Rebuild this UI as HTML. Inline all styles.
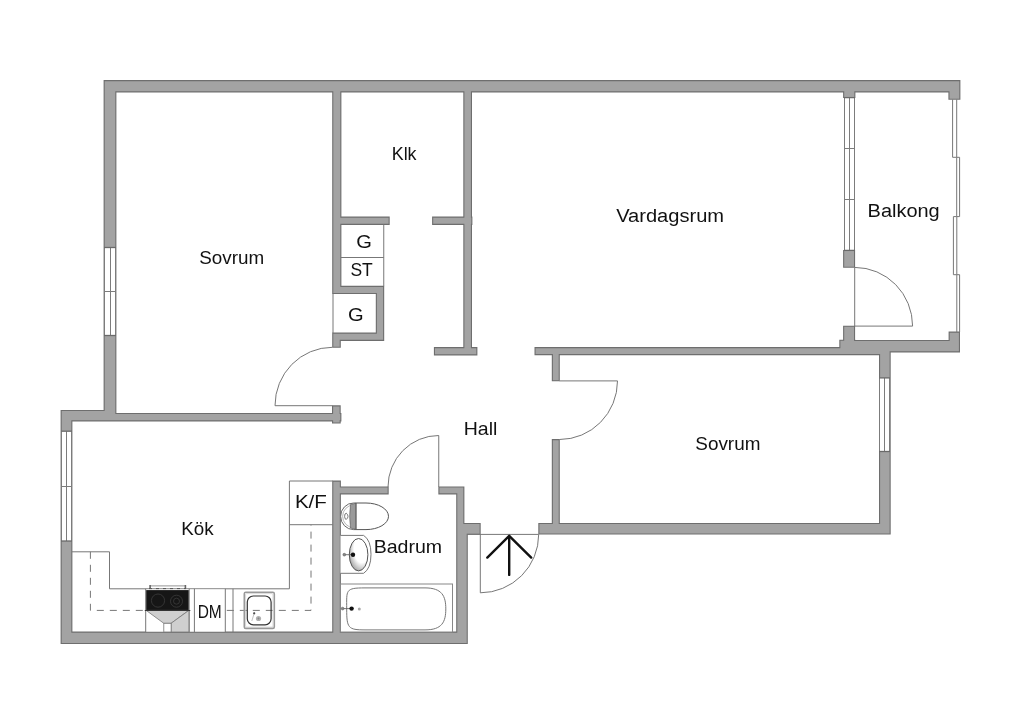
<!DOCTYPE html>
<html><head><meta charset="utf-8"><style>
html,body{margin:0;padding:0;background:#fff;width:1024px;height:724px;overflow:hidden}
svg{display:block;will-change:transform}
text{font-family:"Liberation Sans",sans-serif;fill:#111;}
</style></head><body>
<svg width="1024" height="724" viewBox="0 0 1024 724">
<rect width="1024" height="724" fill="#fff"/>
<path fill="#6e6e6e" d="M103.60,80.10H960.40V92.40H103.60ZM103.60,80.10H116.40V421.40H103.60ZM60.60,409.90H116.40V421.40H60.60ZM103.60,413.00H341.40V421.40H103.60ZM60.60,409.90H72.40V644.10H60.60ZM60.60,631.60H467.80V644.10H60.60ZM456.20,523.00H467.80V644.10H456.20ZM456.20,486.40H464.40V534.80H456.20ZM332.20,486.50H388.70V494.40H332.20ZM438.35,486.50H464.40V494.40H438.35ZM332.20,480.60H340.90V644.10H332.20ZM456.20,523.00H480.70V534.80H456.20ZM538.30,523.00H890.70V534.60H538.30ZM551.80,439.10H559.80V534.60H551.80ZM551.80,347.10H559.80V381.30H551.80ZM534.50,347.10H890.60V355.20H534.50ZM839.30,339.70H855.40V355.20H839.30ZM843.10,325.70H855.10V355.20H843.10ZM843.10,340.00H960.00V352.40H843.10ZM879.00,340.00H890.70V534.60H879.00ZM948.60,331.60H960.00V352.40H948.60ZM843.10,80.10H855.40V98.00H843.10ZM843.10,250.00H855.10V267.80H843.10ZM948.40,80.10H960.40V99.80H948.40ZM332.20,80.10H341.40V294.10H332.20ZM332.20,285.80H384.20V294.10H332.20ZM375.80,285.80H384.20V340.90H375.80ZM332.20,332.60H384.20V340.90H332.20ZM332.20,332.60H340.80V347.80H332.20ZM332.00,405.30H340.70V423.60H332.00ZM332.20,216.60H389.70V224.90H332.20ZM432.10,216.60H472.40V224.90H432.10ZM463.30,80.10H472.00V355.40H463.30ZM433.90,347.10H477.40V355.40H433.90Z"/>
<path fill="#a3a3a3" d="M104.70,81.20H959.30V91.30H104.70ZM104.70,81.20H115.30V420.30H104.70ZM61.70,411.00H115.30V420.30H61.70ZM104.70,414.10H340.30V420.30H104.70ZM61.70,411.00H71.30V643.00H61.70ZM61.70,632.70H466.70V643.00H61.70ZM457.30,524.10H466.70V643.00H457.30ZM457.30,487.50H463.30V533.70H457.30ZM333.30,487.60H387.60V493.30H333.30ZM439.45,487.60H463.30V493.30H439.45ZM333.30,481.70H339.80V643.00H333.30ZM457.30,524.10H479.60V533.70H457.30ZM539.40,524.10H889.60V533.50H539.40ZM552.90,440.20H558.70V533.50H552.90ZM552.90,348.20H558.70V380.20H552.90ZM535.60,348.20H889.50V354.10H535.60ZM840.40,340.80H854.30V354.10H840.40ZM844.20,326.80H854.00V354.10H844.20ZM844.20,341.10H958.90V351.30H844.20ZM880.10,341.10H889.60V533.50H880.10ZM949.70,332.70H958.90V351.30H949.70ZM844.20,81.20H854.30V96.90H844.20ZM844.20,251.10H854.00V266.70H844.20ZM949.50,81.20H959.30V98.70H949.50ZM333.30,81.20H340.30V293.00H333.30ZM333.30,286.90H383.10V293.00H333.30ZM376.90,286.90H383.10V339.80H376.90ZM333.30,333.70H383.10V339.80H333.30ZM333.30,333.70H339.70V346.70H333.30ZM333.10,406.40H339.60V422.50H333.10ZM333.30,217.70H388.60V223.80H333.30ZM433.20,217.70H471.30V223.80H433.20ZM464.40,81.20H470.90V354.30H464.40ZM435.00,348.20H476.30V354.30H435.00Z"/>
<rect x="104" y="247.5" width="12" height="88.0" fill="#fff"/><line x1="104.5" y1="247.5" x2="104.5" y2="335.5" stroke="#7c7c7c" stroke-width="1" fill="none"/><line x1="115.5" y1="247.5" x2="115.5" y2="335.5" stroke="#7c7c7c" stroke-width="1" fill="none"/><line x1="110.5" y1="247.5" x2="110.5" y2="335.5" stroke="#7c7c7c" stroke-width="1" fill="none"/><line x1="104" y1="291.5" x2="116" y2="291.5" stroke="#7c7c7c" stroke-width="1" fill="none"/><line x1="104" y1="247.5" x2="116" y2="247.5" stroke="#6a6a6a" stroke-width="1.3"/><line x1="104" y1="335.5" x2="116" y2="335.5" stroke="#6a6a6a" stroke-width="1.3"/><rect x="61" y="431.2" width="11" height="109.80000000000001" fill="#fff"/><line x1="61.5" y1="431.2" x2="61.5" y2="541" stroke="#7c7c7c" stroke-width="1" fill="none"/><line x1="71.5" y1="431.2" x2="71.5" y2="541" stroke="#7c7c7c" stroke-width="1" fill="none"/><line x1="66.5" y1="431.2" x2="66.5" y2="541" stroke="#7c7c7c" stroke-width="1" fill="none"/><line x1="61" y1="486.5" x2="72" y2="486.5" stroke="#7c7c7c" stroke-width="1" fill="none"/><line x1="61" y1="431.2" x2="72" y2="431.2" stroke="#6a6a6a" stroke-width="1.3"/><line x1="61" y1="541" x2="72" y2="541" stroke="#6a6a6a" stroke-width="1.3"/><rect x="879" y="377.9" width="11" height="73.60000000000002" fill="#fff"/><line x1="879.5" y1="377.9" x2="879.5" y2="451.5" stroke="#7c7c7c" stroke-width="1" fill="none"/><line x1="889.5" y1="377.9" x2="889.5" y2="451.5" stroke="#7c7c7c" stroke-width="1" fill="none"/><line x1="884.5" y1="377.9" x2="884.5" y2="451.5" stroke="#7c7c7c" stroke-width="1" fill="none"/><line x1="879" y1="377.9" x2="890" y2="377.9" stroke="#6a6a6a" stroke-width="1.3"/><line x1="879" y1="451.5" x2="890" y2="451.5" stroke="#6a6a6a" stroke-width="1.3"/><rect x="844" y="97.6" width="11" height="152.8" fill="#fff"/><line x1="844.5" y1="97.6" x2="844.5" y2="250.4" stroke="#7c7c7c" stroke-width="1" fill="none"/><line x1="854.5" y1="97.6" x2="854.5" y2="250.4" stroke="#7c7c7c" stroke-width="1" fill="none"/><line x1="849.5" y1="97.6" x2="849.5" y2="250.4" stroke="#7c7c7c" stroke-width="1" fill="none"/><line x1="844" y1="148.5" x2="855" y2="148.5" stroke="#7c7c7c" stroke-width="1" fill="none"/><line x1="844" y1="199.5" x2="855" y2="199.5" stroke="#7c7c7c" stroke-width="1" fill="none"/><line x1="844" y1="97.6" x2="855" y2="97.6" stroke="#6a6a6a" stroke-width="1.3"/><line x1="844" y1="250.4" x2="855" y2="250.4" stroke="#6a6a6a" stroke-width="1.3"/>

<path d="M952.6,99.4 V157.3 H956.7 V216.6 H953.4 V274.7 H956.8 V332" fill="none" stroke="#777" stroke-width="1"/>
<path d="M956.7,99.4 V157.3 H959.6 V216.6 H956.8 V274.7 H959.6 V332" fill="none" stroke="#777" stroke-width="1"/>


<line x1="383.75" y1="224.5" x2="383.75" y2="286.2" fill="none" stroke="#777" stroke-width="1"/>
<line x1="341" y1="257.5" x2="383.75" y2="257.5" fill="none" stroke="#777" stroke-width="1"/>
<line x1="333" y1="293.7" x2="333" y2="333" fill="none" stroke="#777" stroke-width="1"/>


<path d="M275,405.7 A57.4,58.4 0 0 1 332.4,347.3" fill="none" stroke="#777" stroke-width="1"/>
<line x1="275" y1="405.7" x2="332.4" y2="405.7" fill="none" stroke="#777" stroke-width="1"/>
<path d="M438.75,435.5 A50.75,51.5 0 0 0 388,487" fill="none" stroke="#777" stroke-width="1"/>
<line x1="438.75" y1="435.5" x2="438.75" y2="487" fill="none" stroke="#777" stroke-width="1"/>
<path d="M617.5,380.9 A58,58.6 0 0 1 559.5,439.5" fill="none" stroke="#777" stroke-width="1"/>
<line x1="559.5" y1="380.9" x2="617.5" y2="380.9" fill="none" stroke="#777" stroke-width="1"/>
<path d="M854.7,267.4 A57.9,58.7 0 0 1 912.6,326.1" fill="none" stroke="#777" stroke-width="1"/>
<line x1="854.7" y1="267.4" x2="854.7" y2="326.1" fill="none" stroke="#777" stroke-width="1"/>
<line x1="854.7" y1="326.1" x2="912.6" y2="326.1" fill="none" stroke="#777" stroke-width="1"/>
<path d="M480.3,592.8 A58.4,58.4 0 0 0 538.7,534.4" fill="none" stroke="#777" stroke-width="1"/>
<line x1="480.3" y1="534.4" x2="480.3" y2="592.8" fill="none" stroke="#777" stroke-width="1"/>
<line x1="467.4" y1="534.4" x2="538.7" y2="534.4" fill="none" stroke="#777" stroke-width="1"/>


<polyline points="72,551.8 109.5,551.8 109.5,588.8 289.4,588.8 289.4,481 332.8,481" fill="none" stroke="#777" stroke-width="1"/>
<line x1="289.4" y1="524.7" x2="332.8" y2="524.7" fill="none" stroke="#777" stroke-width="1"/>
<polyline points="90.4,551.8 90.4,610.4 311,610.4 311,524.7" fill="none" stroke="#777" stroke-width="1" stroke-dasharray="7,6"/>
<rect x="146" y="589.5" width="79" height="42" fill="#fff"/>
<line x1="145.7" y1="588.8" x2="145.7" y2="632" fill="none" stroke="#777" stroke-width="1"/>
<line x1="189.2" y1="588.8" x2="189.2" y2="632" fill="none" stroke="#777" stroke-width="1"/>
<line x1="194.4" y1="588.8" x2="194.4" y2="632" fill="none" stroke="#777" stroke-width="1"/>
<line x1="225.3" y1="588.8" x2="225.3" y2="632" fill="none" stroke="#777" stroke-width="1"/>
<line x1="233" y1="588.8" x2="233" y2="632" fill="none" stroke="#777" stroke-width="1"/>
<!-- stove -->
<line x1="150" y1="585.9" x2="185.5" y2="585.9" stroke="#888" stroke-width="0.9"/>
<rect x="149.3" y="585" width="1.6" height="3.8" fill="#666"/>
<rect x="184.6" y="585" width="1.6" height="3.8" fill="#666"/>
<line x1="149" y1="588.6" x2="186" y2="588.6" stroke="#555" stroke-width="1" stroke-dasharray="3,4"/>
<rect x="146.2" y="590.1" width="42.5" height="20.3" fill="#161616"/>
<circle cx="158" cy="600.6" r="6.6" fill="none" stroke="#3c3c3c" stroke-width="0.8"/>
<circle cx="176.5" cy="601.2" r="6" fill="none" stroke="#3c3c3c" stroke-width="0.8"/>
<circle cx="176.5" cy="601.2" r="3" fill="none" stroke="#3c3c3c" stroke-width="0.8"/>
<polygon points="146.2,610.4 188.7,610.4 171.1,623.3 163.8,623.3" fill="#cfcfcf" stroke="#777" stroke-width="0.8"/>
<polygon points="171.1,623.3 188.9,610.4 188.9,632 171.1,632" fill="#cfcfcf" stroke="#777" stroke-width="0.8"/>
<rect x="163.8" y="623.3" width="7.3" height="8.7" fill="#fff" stroke="#777" stroke-width="0.8"/>
<line x1="144.8" y1="610.5" x2="190.3" y2="610.5" stroke="#333" stroke-width="1"/>
<!-- sink -->
<rect x="244.3" y="592.3" width="30" height="36.1" rx="1.5" fill="none" stroke="#999" stroke-width="1.6"/>
<rect x="245.6" y="593.6" width="27.4" height="33.5" rx="1" fill="none" stroke="#ccc" stroke-width="0.7"/>
<rect x="247.3" y="596" width="23.8" height="28.8" rx="6" fill="none" stroke="#333" stroke-width="1.2"/>
<circle cx="258.5" cy="618.5" r="2.6" fill="#b0b0b0"/><circle cx="258.5" cy="618.5" r="1" fill="#888"/>
<circle cx="254.2" cy="613.3" r="1.1" fill="#333"/>
<line x1="254.2" y1="613.3" x2="251.8" y2="621" stroke="#999" stroke-width="0.6"/>


<!-- toilet -->
<path d="M356.1,503 H353.6 A13,13.3 0 0 0 353.6,529.6 H356.1 Z" fill="#fff" stroke="#666" stroke-width="1"/>
<path d="M355,505 H353.6 A11,11.3 0 0 0 353.6,527.6 H355" fill="none" stroke="#999" stroke-width="0.7"/>
<path d="M350.5,504.5 L356.1,503.2 V529.4 L350.5,528 Q348.8,516.3 350.5,504.5 Z" fill="#9a9a9a" stroke="#555" stroke-width="0.6"/>
<path d="M356.1,503 H366 A22.5,13.3 0 0 1 366,529.6 H356.1 Z" fill="#fff" stroke="#555" stroke-width="1"/>
<path d="M344.6,516.3 Q344.6,513.2 346.3,513.2 Q348,514.6 348,516.3 Q348,518 346.3,519.4 Q344.6,519.4 344.6,516.3 Z" fill="none" stroke="#444" stroke-width="0.7"/>
<!-- basin -->
<path d="M340.5,535.4 H363.6 Q371,540 371,554.3 Q371,568.6 363.6,573.3 H340.5" fill="#fff" stroke="#777" stroke-width="1"/>
<defs><radialGradient id="bg" cx="0.68" cy="0.32" r="0.85"><stop offset="0.5" stop-color="#fff"/><stop offset="1" stop-color="#888"/></radialGradient></defs>
<ellipse cx="358.6" cy="554.7" rx="9.3" ry="16.2" fill="url(#bg)" stroke="#555" stroke-width="1"/>
<line x1="344.3" y1="554.7" x2="353" y2="554.7" stroke="#555" stroke-width="0.8"/>
<circle cx="344.3" cy="554.7" r="1.4" fill="#888" stroke="#555" stroke-width="0.5"/>
<circle cx="353" cy="554.7" r="2.2" fill="#111"/>
<!-- bathtub -->
<rect x="340.5" y="584" width="112" height="48" fill="#fff" stroke="#888" stroke-width="1"/>
<path d="M365,587.9 C 345,587.9 346.7,590 346.7,608.9 C 346.7,628 348,629.9 365,629.9 H 425 C 442,629.9 445.8,622 445.8,608.9 C 445.8,596 442,587.9 425,587.9 Z" fill="#fff" stroke="#777" stroke-width="1"/>
<line x1="342.6" y1="608.6" x2="351.6" y2="608.6" stroke="#555" stroke-width="0.8"/>
<circle cx="342.6" cy="608.6" r="1.4" fill="#888" stroke="#555" stroke-width="0.5"/>
<circle cx="351.6" cy="608.6" r="2.2" fill="#111"/>
<circle cx="359.3" cy="608.9" r="1.5" fill="#aaa"/>


<g stroke="#111" stroke-width="2.4" fill="none" stroke-linecap="round" stroke-linejoin="round">
<line x1="509.2" y1="536.5" x2="509.2" y2="574.9"/>
<polyline points="487.3,557.6 509.2,535.8 531.2,557.6"/>
</g>

<text x="391.70" y="160.10" font-size="18.72" textLength="24.90" lengthAdjust="spacingAndGlyphs">Klk</text>
<text x="616.20" y="222.10" font-size="19.06" textLength="107.90" lengthAdjust="spacingAndGlyphs">Vardagsrum</text>
<text x="867.60" y="216.80" font-size="18.99" textLength="72.10" lengthAdjust="spacingAndGlyphs">Balkong</text>
<text x="199.20" y="264.10" font-size="19.06" textLength="64.90" lengthAdjust="spacingAndGlyphs">Sovrum</text>
<text x="356.20" y="248.35" font-size="18.02" textLength="15.65" lengthAdjust="spacingAndGlyphs">G</text>
<text x="350.45" y="275.85" font-size="18.02" textLength="22.40" lengthAdjust="spacingAndGlyphs">ST</text>
<text x="347.95" y="320.85" font-size="18.02" textLength="15.65" lengthAdjust="spacingAndGlyphs">G</text>
<text x="463.70" y="434.60" font-size="18.72" textLength="33.65" lengthAdjust="spacingAndGlyphs">Hall</text>
<text x="695.30" y="450.40" font-size="19.27" textLength="65.10" lengthAdjust="spacingAndGlyphs">Sovrum</text>
<text x="181.20" y="535.10" font-size="18.72" textLength="32.40" lengthAdjust="spacingAndGlyphs">Kök</text>
<text x="294.90" y="508.30" font-size="19.13" textLength="32.00" lengthAdjust="spacingAndGlyphs">K/F</text>
<text x="373.70" y="552.90" font-size="18.02" textLength="68.40" lengthAdjust="spacingAndGlyphs">Badrum</text>
<text x="197.70" y="618.35" font-size="18.02" textLength="24.10" lengthAdjust="spacingAndGlyphs">DM</text>
</svg>
</body></html>
